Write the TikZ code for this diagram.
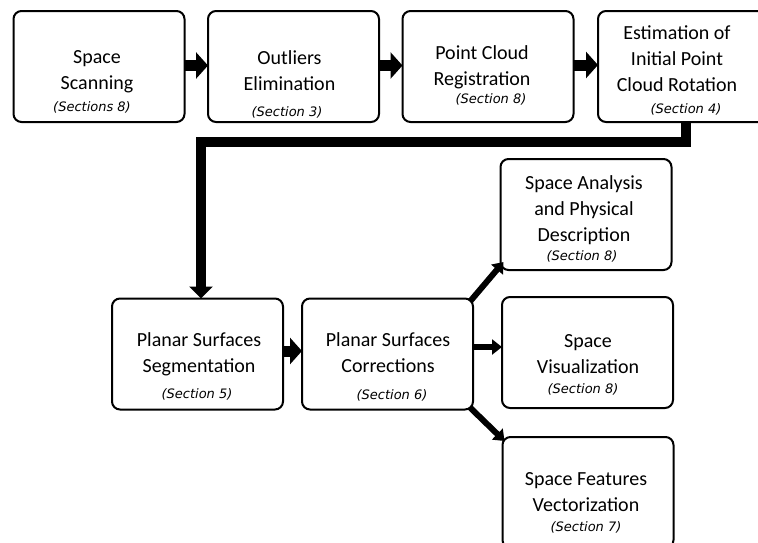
\documentclass[tikz,border=0pt]{standalone}
\usepackage{fontspec}
\setmainfont{Carlito}
\newfontfamily\secfont{DejaVu Sans}
\usetikzlibrary{arrows.meta}
\begin{document}
\begin{tikzpicture}[x=1pt,y=-1pt,
  stage/.style={draw=black, line width=2pt, rounded corners=8pt,
    minimum width=171pt, minimum height=111pt, inner sep=0pt, outer sep=0pt},
  title/.style={anchor=base, align=center, inner sep=0pt,
    font=\fontsize{20}{26}\selectfont},
  sect/.style={anchor=base, inner sep=0pt,
    font=\secfont\itshape\fontsize{13}{15}\selectfont},
  flow/.style={line width=11pt, -{Triangle[width=26pt,length=12pt]}},
  trunk/.style={line width=10pt, -{Triangle[width=23pt,length=12pt]}},
  branch/.style={line width=6pt, -{Triangle[width=15pt,length=10pt]}}]
\useasboundingbox (0,0) rectangle (758,542);
\clip (0,0) rectangle (758,542);

% processing stages
\node[stage] (scan) at (99,66.5) {};
\node[stage] (outl) at (293.5,66.5) {};
\node[stage] (reg)  at (488,66.5) {};
\node[stage] (rot)  at (683.5,66.5) {};
\node[stage] (seg)  at (197.5,354) {};
\node[stage] (corr) at (387.5,354) {};
\node[stage] (ana)  at (586,214.5) {};
\node[stage] (vis)  at (587.5,352.5) {};
\node[stage] (vec)  at (588,492.5) {};

% stage titles (anchored at the baseline of the last line)
\node[title] at (97,89)    {Space\\Scanning};
\node[title] at (289.5,90) {Outliers\\Elimination};
\node[title] at (482,85)   {Point Cloud\\Registration};
\node[title] at (677,91)   {Estimation of\\Initial Point\\Cloud Rotation};
\node[title] at (199,372)  {Planar Surfaces\\Segmentation};
\node[title] at (388,372)  {Planar Surfaces\\Corrections};
\node[title] at (584,241)  {Space Analysis\\and Physical\\Description};
\node[title] at (588,373)  {Space\\Visualization};
\node[title] at (586,511)  {Space Features\\Vectorization};

% section references
\node[sect] at (92,111)    {(Sections 8)};
\node[sect] at (287,116)   {(Section 3)};
\node[sect] at (491,103.5) {(Section 8)};
\node[sect] at (686,113)   {(Section 4)};
\node[sect] at (197,398)   {(Section 5)};
\node[sect] at (392,399)   {(Section 6)};
\node[sect] at (582,260)   {(Section 8)};
\node[sect] at (583,393)   {(Section 8)};
\node[sect] at (586,531)   {(Section 7)};

% connectors
\draw[flow] ([yshift=1pt]scan.east) -- ([yshift=1pt]outl.west);
\draw[flow] ([yshift=1pt]outl.east) -- ([yshift=1pt]reg.west);
\draw[flow] ([yshift=1.5pt]reg.east)  -- ([yshift=1.5pt]rot.west);

\coordinate (elbow) at (201,142);
\draw[trunk] ([xshift=2.5pt]rot.south) |- (elbow) -- (elbow |- seg.north);

\draw[flow] ([yshift=3pt]seg.east) -- ([yshift=3pt]corr.west);

\draw[branch] ([xshift=-3pt,yshift=-3pt]corr.north east) -- ([xshift=3pt,yshift=8pt]ana.south west);
\draw[branch] ([yshift=5.5pt]corr.east |- vis.west) -- ([yshift=5.5pt]vis.west);
\draw[branch] ([xshift=-3pt,yshift=2pt]corr.south east) -- ([xshift=2pt,yshift=-4pt]vec.north west);
\end{tikzpicture}
\end{document}
